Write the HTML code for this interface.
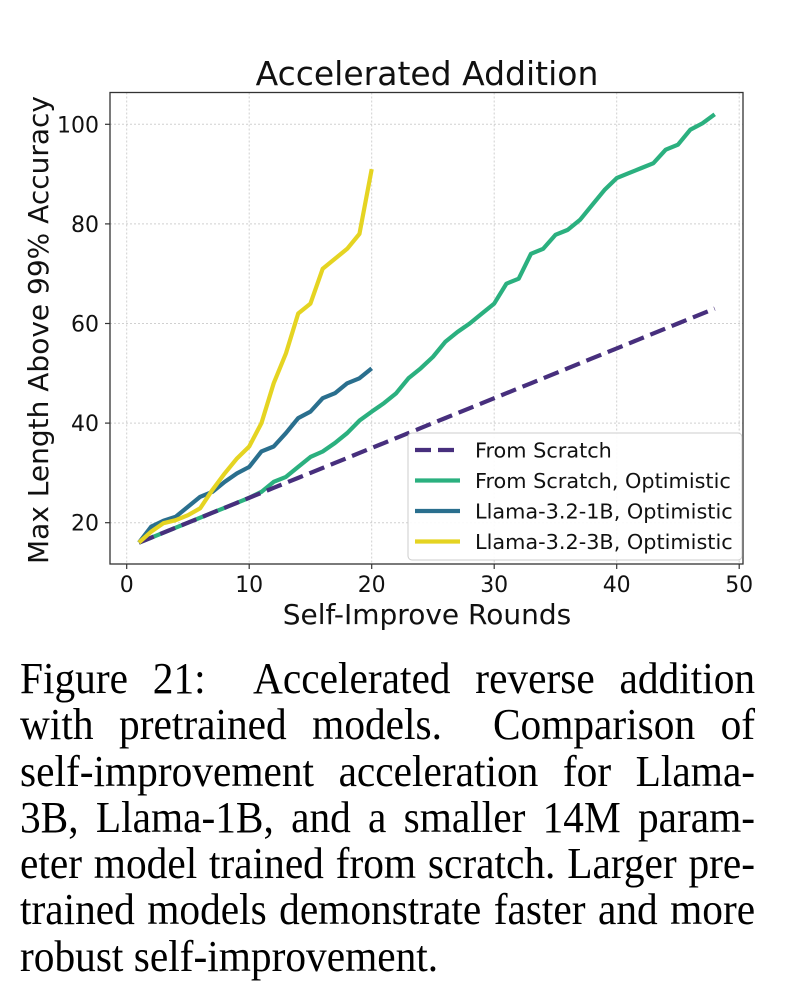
<!DOCTYPE html>
<html><head><meta charset="utf-8">
<style>
body{margin:0;background:#fff;width:795px;height:1000px;overflow:hidden;position:relative}
svg{position:absolute;left:0;top:0}
.cap{position:absolute;left:20px;width:782px;font-family:"Liberation Serif",serif;font-size:44px;line-height:46.3px;color:#000;transform:scaleX(0.94);transform-origin:0 0}
.ln{text-align:justify;text-align-last:justify;white-space:nowrap;height:46.3px}
.last{text-align:left;text-align-last:left}
</style></head><body>
<svg id="chart" width="795" height="640" font-family="DejaVu Sans, Liberation Sans, sans-serif"></svg>
<div class="cap" style="top:656px">
<div class="ln">Figure 21:&nbsp; Accelerated reverse addition</div>
<div class="ln">with pretrained models.&nbsp; Comparison of</div>
<div class="ln">self-improvement acceleration for Llama-</div>
<div class="ln">3B, Llama-1B, and a smaller 14M param-</div>
<div class="ln">eter model trained from scratch. Larger pre-</div>
<div class="ln">trained models demonstrate faster and more</div>
<div class="ln last">robust self-improvement.</div>
</div>
<script>
const xTicks=[0,10,20,30,40,50];
const yTicks=[20,40,60,80,100];
const scratchX=[1,2,3,4,5,6,7,8,9,10,11,12,13,14,15,16,17,18,19,20,21,22,23,24,25,26,27,28,29,30,31,32,33,34,35,36,37,38,39,40,41,42,43,44,45,46,47,48];
const scratchY=[16,17,18,19,20,21,22,23,24,25,26,27,28,29,30,31,32,33,34,35,36,37,38,39,40,41,42,43,44,45,46,47,48,49,50,51,52,53,54,55,56,57,58,59,60,61,62,63];
const optY=[16,17,18,19,20,21,22,23,24,25,26.2,28.2,29.2,31.2,33.2,34.3,36,38,40.5,42.3,44,46,49,51,53.3,56.3,58.3,60,62,64,68,69,74,75,77.8,78.8,80.8,83.8,86.8,89.2,90.2,91.2,92.2,94.9,95.9,98.9,100.2,102];
const llamaX=[1,2,3,4,5,6,7,8,9,10,11,12,13,14,15,16,17,18,19,20];
const l1Y=[16,19.2,20.4,21.2,23.2,25.2,26.2,28.2,29.9,31.2,34.3,35.3,38,41,42.3,45,46,48,49,51];
const l3Y=[16,18.2,19.9,20.5,21.5,22.9,26.6,29.9,32.9,35.3,40,48,54,62,64,71,73,75,78,91];
const legendLabels=["From Scratch","From Scratch, Optimistic","Llama-3.2-1B, Optimistic","Llama-3.2-3B, Optimistic"];
const L=110,R=743,T=92.5,B=564;
const sx=v=>126.7+v*12.25;
const sy=v=>522.7-(v-20)*4.98;
const svg=document.getElementById('chart');
const NS='http://www.w3.org/2000/svg';
function mk(t,a,p){const e=document.createElementNS(NS,t);for(const k in a)e.setAttribute(k,a[k]);(p||svg).appendChild(e);return e;}
xTicks.forEach(v=>{
 const g=mk('line',{x1:sx(v),x2:sx(v),y1:T,y2:B,stroke:'#d0d0d0','stroke-dasharray':'2,2','stroke-width':1});
 
 
 const tk=mk('line',{x1:sx(v),x2:sx(v),y1:B,y2:B+5,stroke:'#333','stroke-width':1.2});
 
 
 const t=mk('text',{x:sx(v),y:592,'font-size':22,'text-anchor':'middle',fill:'#111'});t.textContent=v;
 
 
});
yTicks.forEach(v=>{
 const g=mk('line',{x1:L,x2:R,y1:sy(v),y2:sy(v),stroke:'#d0d0d0','stroke-dasharray':'2,2','stroke-width':1});
 
 
 const tk=mk('line',{x1:L-5,x2:L,y1:sy(v),y2:sy(v),stroke:'#333','stroke-width':1.2});
 
 
 const t=mk('text',{x:99,y:sy(v)+8,'font-size':22,'text-anchor':'end',fill:'#111'});t.textContent=v;
 
 
});
function line(xs,ys,color,dash,name){
 const p=mk('polyline',{points:xs.map((x,i)=>sx(x)+','+sy(ys[i])).join(' '),fill:'none',stroke:color,'stroke-width':4.2,'stroke-linejoin':'round'});
 if(dash)p.setAttribute('stroke-dasharray',dash);
 
 
}
line(scratchX,optY,'#2bb07f',null,'from-scratch-optimistic-line');
line(scratchX,scratchY,'#472f7d','16,7','from-scratch-line');
line(llamaX,l1Y,'#2a6f8e',null,'llama-1b-line');
line(llamaX,l3Y,'#e5d422',null,'llama-3b-line');
const fr=mk('rect',{x:L,y:T,width:R-L,height:B-T,fill:'none',stroke:'#333','stroke-width':1.3});


const tt=mk('text',{x:427,y:85,'font-size':33,'text-anchor':'middle',fill:'#111'});tt.textContent='Accelerated Addition';


const xl=mk('text',{x:427,y:624,'font-size':28,'text-anchor':'middle',fill:'#111'});xl.textContent='Self-Improve Rounds';


const yl=mk('text',{x:0,y:0,'font-size':28,'text-anchor':'middle',fill:'#111',transform:'translate(48,330) rotate(-90)'});yl.textContent='Max Length Above 99% Accuracy';


const lg=mk('rect',{x:408,y:433,width:334,height:127,rx:4,fill:'#fff','fill-opacity':0.9,stroke:'#ccc','stroke-width':1});


const lc=['#472f7d','#2bb07f','#2a6f8e','#e5d422'];
legendLabels.forEach((s,i)=>{
 const y=450+i*30.5;
 const h=mk('line',{x1:415,x2:460,y1:y,y2:y,stroke:lc[i],'stroke-width':4.2});
 if(i===0)h.setAttribute('stroke-dasharray','16,7');
 
 
 const t=mk('text',{x:475,y:y+7.5,'font-size':20.8,fill:'#111'});t.textContent=s;
 
 
});
</script>
</body></html>
